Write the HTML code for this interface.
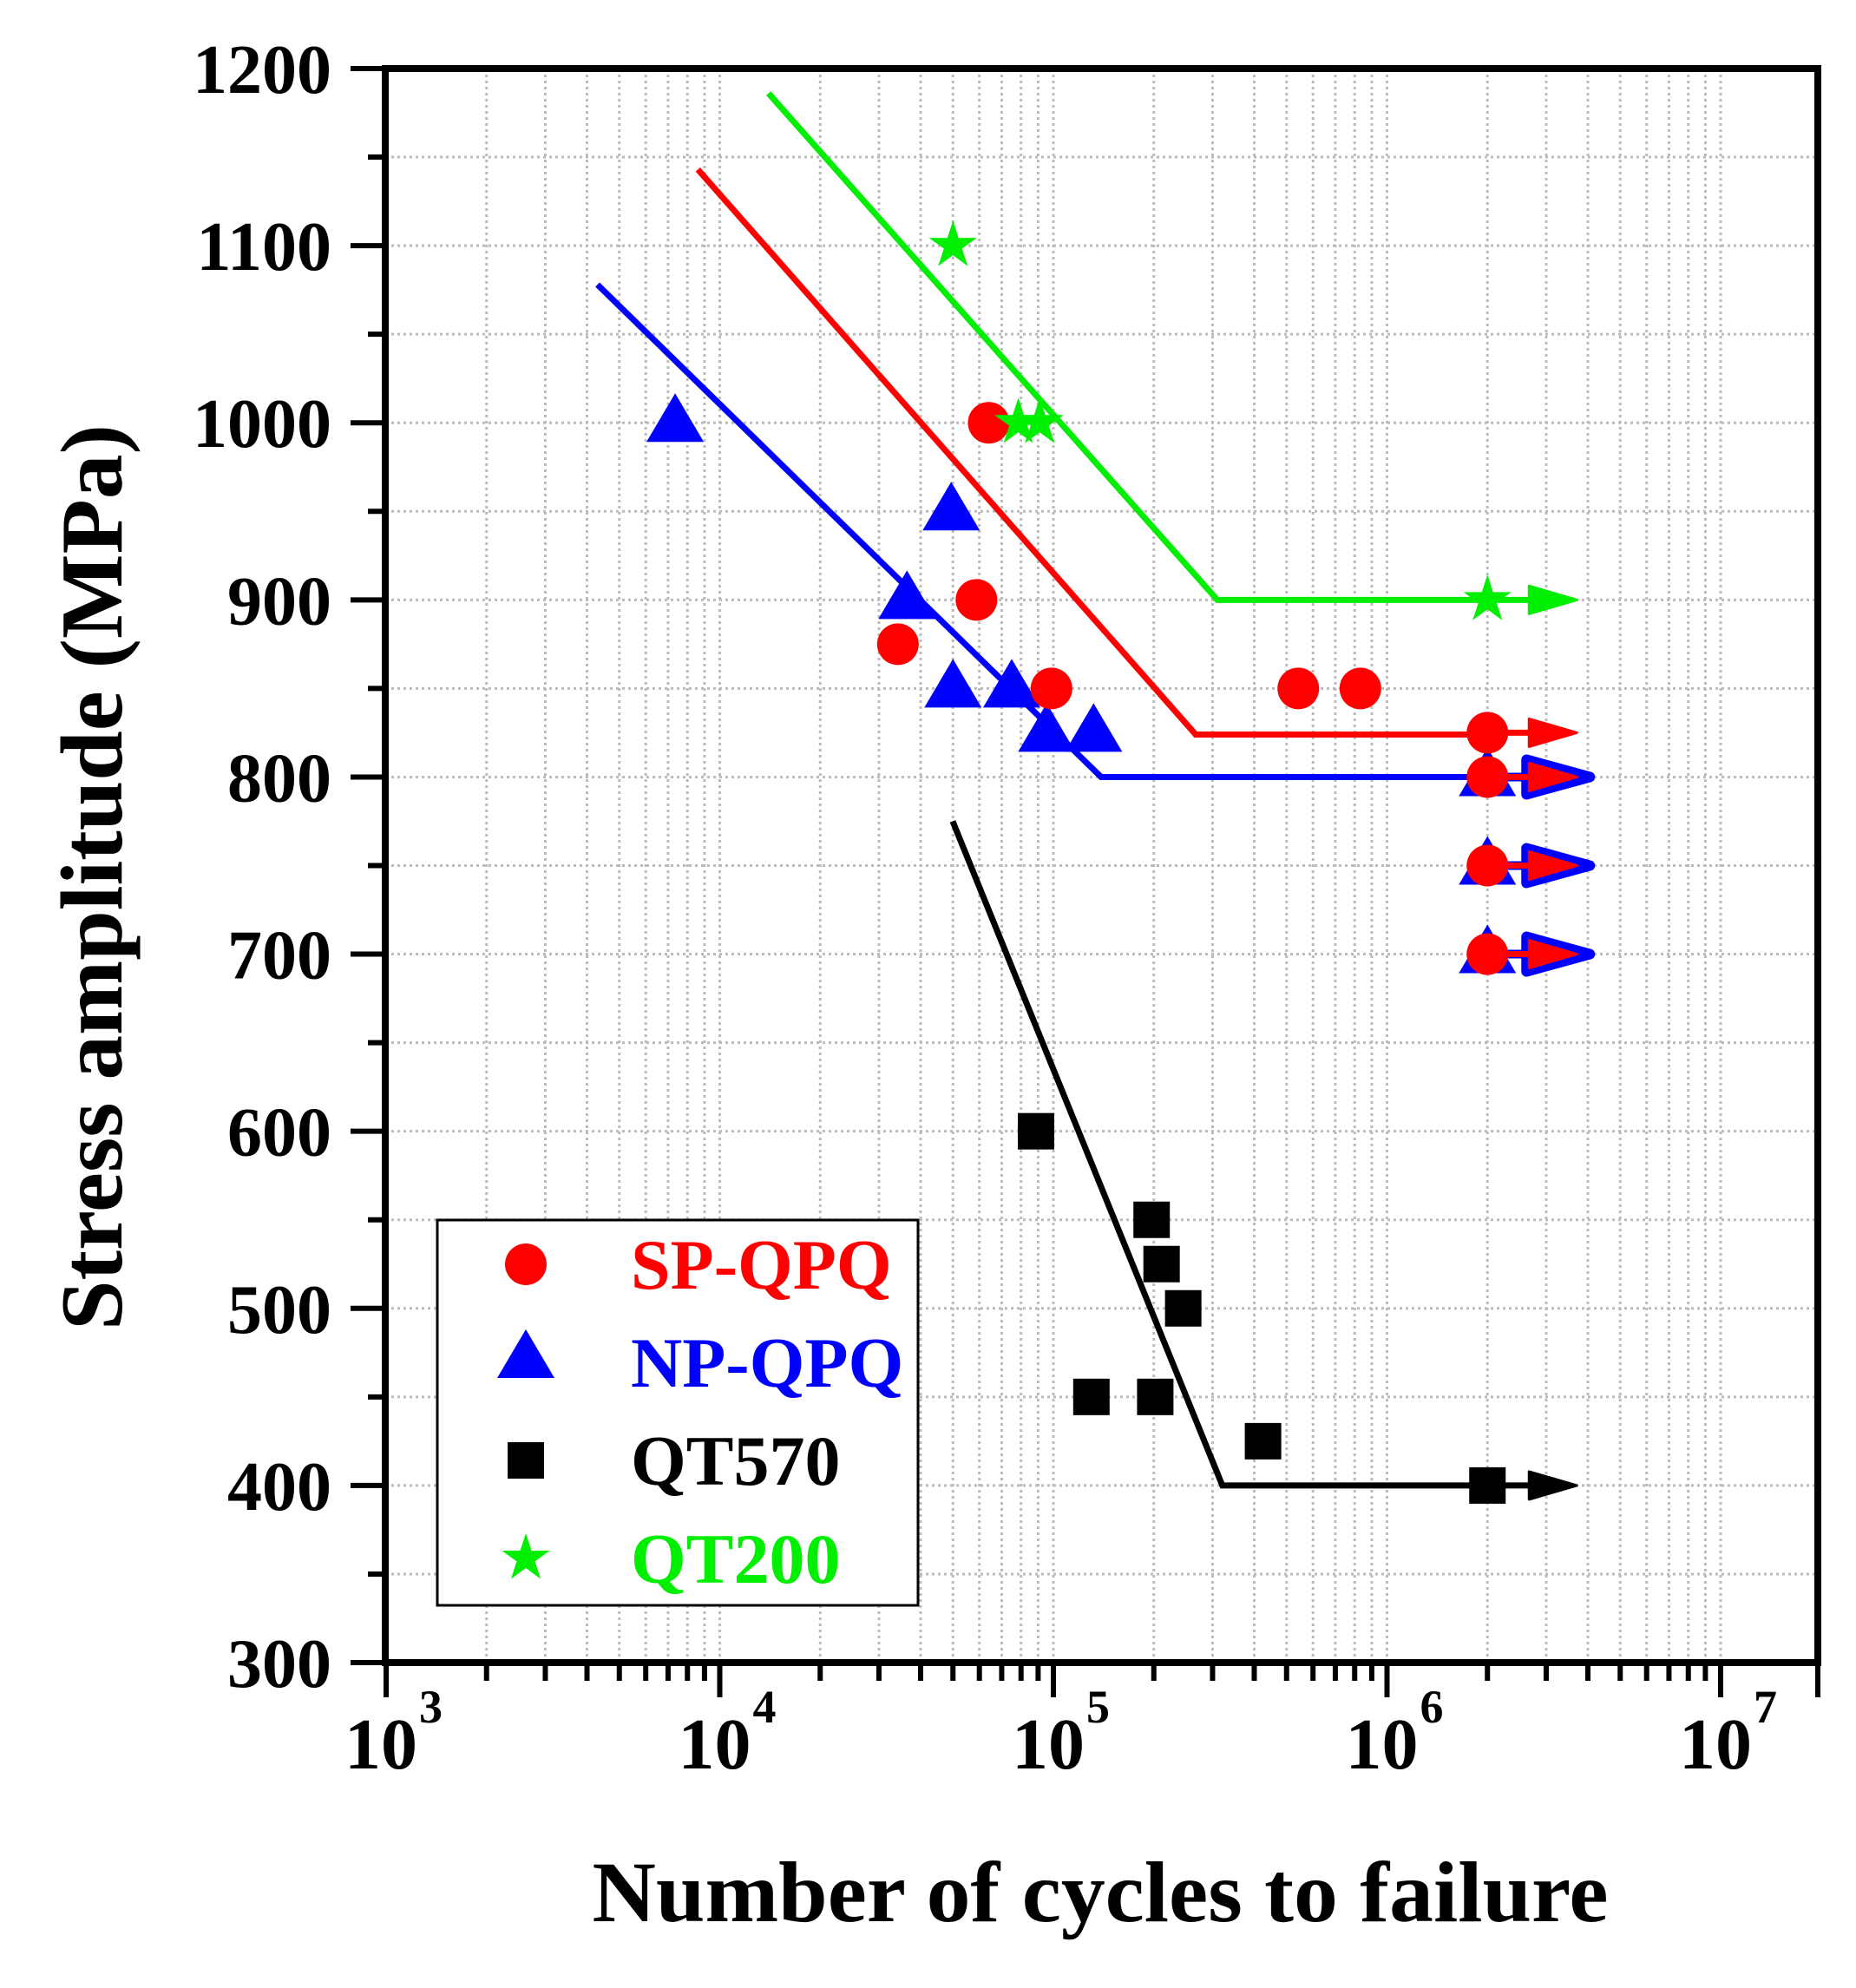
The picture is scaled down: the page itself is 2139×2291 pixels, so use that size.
<!DOCTYPE html>
<html><head><meta charset="utf-8"><style>
html,body{margin:0;padding:0;background:#fff}
svg{display:block;font-family:"Liberation Serif",serif;font-weight:bold}
</style></head><body>
<svg id="chart" width="2139" height="2291" viewBox="0 0 2139 2291" xmlns="http://www.w3.org/2000/svg">
<g id="grid"></g>
<g id="lines"></g>
<g id="marks"></g>
<g id="axes"></g>
<text transform="translate(140,1011) rotate(-90)" text-anchor="middle" font-size="102" textLength="1044" lengthAdjust="spacingAndGlyphs">Stress amplitude (MPa)</text>
<text x="1268" y="2214" text-anchor="middle" font-size="100" textLength="1171" lengthAdjust="spacingAndGlyphs">Number of cycles to failure</text>
<g id="legend"></g>
</svg>
<script>
const yTicks=[300,400,500,600,700,800,900,1000,1100,1200];
const xDecades=[3,4,5,6,7];
const spN=[34200,58800,64000,98700,542000,832000,2000000,2000000,2000000,2000000];
const spS=[875,900,1000,850,850,850,825,800,750,700];
const npN=[7350,36400,49400,50000,75000,95500,132000,2000000,2000000,2000000];
const npS=[1000,900,950,850,850,825,825,800,750,700];
const qt570N=[88700,197000,211000,245000,130000,202000,425000,2000000];
const qt570S=[600,550,525,500,450,450,425,400];
const qt200N=[50000,78500,91000,2000000];
const qt200S=[1100,1000,1000,900];
const greenLineN=[14000,310000,2000000];const greenLineS=[1186,900,900];
const redLineN=[8600,267000,2000000];const redLineS=[1143,824,824];
const blueLineN=[4300,139000,2000000];const blueLineS=[1078,800,800];
const blackLineN=[49900,321000,2000000];const blackLineS=[775,400,400];
const runoutN=2000000;
const arrowsRed=[825,800,750,700];const arrowsBlue=[800,750,700];
const arrowsGreen=[900];const arrowsBlack=[400];

const NS="http://www.w3.org/2000/svg";
const L=444,R=2095,T=79,B=1916;
const X=n=>445+(Math.log10(n)-3)*384.5;
const Y=s=>B-(s-300)*(B-T)/900;
function mk(tag,attrs,parent){const e=document.createElementNS(NS,tag);for(const k in attrs)e.setAttribute(k,attrs[k]);parent.appendChild(e);return e;}
const grid=document.getElementById('grid'),axes=document.getElementById('axes'),lines=document.getElementById('lines'),marks=document.getElementById('marks'),legend=document.getElementById('legend');
for(let v=300;v<=1200;v+=50){const g=mk('line',{x1:L,x2:R,y1:Y(v),y2:Y(v),stroke:'#bbb','stroke-width':3,'stroke-dasharray':'3,4'},grid);

}
for(let d=3;d<=7;d++)for(let m=1;m<=9;m++){const n=m*Math.pow(10,d);const x=X(n);if(x<=L+2||x>=R)continue;const g=mk('line',{x1:x,x2:x,y1:T,y2:B,stroke:'#bbb','stroke-width':3,'stroke-dasharray':'3,4'},grid);

}
const fr=mk('rect',{x:L,y:T,width:R-L,height:B-T,fill:'none',stroke:'#000','stroke-width':8},axes);


for(let v=300;v<=1200;v+=50){const maj=v%100===0;const t=mk('line',{x1:L-(maj?40:20),x2:L,y1:Y(v),y2:Y(v),stroke:'#000','stroke-width':6},axes);

}
yTicks.forEach(v=>{const t=mk('text',{x:382,y:Y(v)+28,'text-anchor':'end','font-size':80},axes);t.textContent=v;

});
for(let d=3;d<=7;d++)for(let m=1;m<=9;m++){const x=X(m*Math.pow(10,d));if(x>R+1)continue;const t=mk('line',{x1:x,x2:x,y1:B,y2:B+(m===1?40:21),stroke:'#000','stroke-width':6},axes);

}
const xe=mk('line',{x1:R,x2:R,y1:B,y2:B+40,stroke:'#000','stroke-width':6},axes);


xDecades.forEach(d=>{const x=X(Math.pow(10,d));const t=mk('text',{x:x-6,y:2038,'text-anchor':'middle','font-size':84},axes);t.textContent='10';


const s=mk('text',{x:x+38,y:1985,'text-anchor':'start','font-size':54},axes);s.textContent=d;

});
function poly(ns,ss,col,name){const p=mk('polyline',{points:ns.map((n,i)=>X(n)+','+Y(ss[i])).join(' '),fill:'none',stroke:col,'stroke-width':7},lines);

}
poly(greenLineN,greenLineS,'#00ee00','qt200-fit-line');
poly(redLineN,redLineS,'#ff0000','sp-qpq-fit-line');
poly(blueLineN,blueLineS,'#0000ff','np-qpq-fit-line');
poly(blackLineN,blackLineS,'#000','qt570-fit-line');
function circle(x,y,p){return mk('circle',{cx:x,cy:y,r:24,fill:'#ff0000'},p);}
function tri(x,y,p){return mk('polygon',{points:`${x},${y-34} ${x+33},${y+22} ${x-33},${y+22}`,fill:'#0000ff'},p);}
function sq(x,y,p){return mk('rect',{x:x-21,y:y-21,width:42,height:42,fill:'#000'},p);}
function star(x,y,p){let pts=[];for(let i=0;i<10;i++){const r=i%2?11:29;const a=-Math.PI/2+i*Math.PI/5;pts.push((x+r*Math.cos(a)).toFixed(1)+','+(y+r*Math.sin(a)).toFixed(1));}return mk('polygon',{points:pts.join(' '),fill:'#00ee00'},p);}
function arrow(s,col,outline,name){const y=Y(s),x0=X(runoutN);const g=mk('g',{},marks);


if(outline){mk('line',{x1:x0,x2:x0+60,y1:y,y2:y,stroke:col,'stroke-width':10},g);mk('polygon',{points:`${x0+45},${y-20} ${x0+118},${y} ${x0+45},${y+20}`,fill:col,stroke:col,'stroke-width':12,'stroke-linejoin':'round'},g);}
else{mk('line',{x1:x0,x2:x0+60,y1:y,y2:y,stroke:col,'stroke-width':7},g);mk('polygon',{points:`${x0+48},${y-16} ${x0+103},${y} ${x0+48},${y+16}`,fill:col,stroke:col,'stroke-width':3,'stroke-linejoin':'round'},g);}}
arrowsGreen.forEach(s=>arrow(s,'#00ee00',false,'qt200-runout-arrow'));
arrowsBlack.forEach(s=>arrow(s,'#000',false,'qt570-runout-arrow'));
arrowsBlue.forEach(s=>arrow(s,'#0000ff',true,'np-qpq-runout-arrow'));
npN.forEach((n,i)=>{const e=tri(X(n),Y(npS[i]),marks);

});
arrowsRed.forEach(s=>arrow(s,'#ff0000',false,'sp-qpq-runout-arrow'));
spN.forEach((n,i)=>{const e=circle(X(n),Y(spS[i]),marks);

});
qt570N.forEach((n,i)=>{const e=sq(X(n),Y(qt570S[i]),marks);

});
qt200N.forEach((n,i)=>{const e=star(X(n),Y(qt200S[i]),marks);

});
const lb=mk('rect',{x:504,y:1406,width:554,height:444,fill:'#fff',stroke:'#000','stroke-width':3},legend);


const items=[['SP-QPQ','#ff0000',circle],['NP-QPQ','#0000ff',tri],['QT570','#000',sq],['QT200','#00ee00',star]];
const ly=[1457,1570,1683,1796];
items.forEach((it,i)=>{const g=mk('g',{},legend);


it[2](606,ly[i]+(i===1?-4:0),g);
const t=mk('text',{x:727,y:ly[i]+28,'font-size':82,fill:it[1]},g);t.textContent=it[0];});
</script>
</body></html>
